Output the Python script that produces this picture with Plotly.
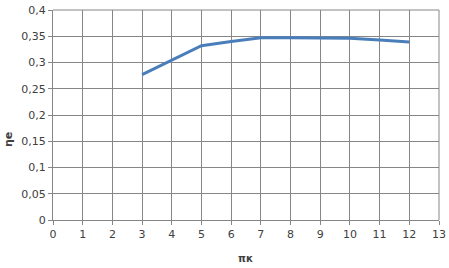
import plotly.graph_objects as go

pi_k = [3, 4, 5, 6, 7, 8, 9, 10, 11, 12]
eta_e = [0.277, 0.305, 0.332, 0.340, 0.347, 0.347, 0.346, 0.346, 0.343, 0.339]

x_ticks = list(range(0, 14))
y_ticks = [0, 0.05, 0.1, 0.15, 0.2, 0.25, 0.3, 0.35, 0.4]
y_labels = ["0", "0,05", "0,1", "0,15", "0,2", "0,25", "0,3", "0,35", "0,4"]

fig = go.Figure()
fig.add_trace(go.Scatter(x=pi_k, y=eta_e, mode="lines",
                         line=dict(color="#4A7EBB", width=3)))

grid = "#868686"
fig.update_layout(
    width=449, height=268,
    margin=dict(l=53, r=10, t=10, b=48, autoexpand=False),
    paper_bgcolor="white", plot_bgcolor="white",
    showlegend=False,
    font=dict(family="DejaVu Sans, Verdana, sans-serif", size=11, color="#404040"),
)
fig.update_xaxes(range=[0, 13], tickvals=x_ticks, ticktext=[str(v) for v in x_ticks],
                 showgrid=True, gridcolor=grid, gridwidth=1,
                 showline=True, linecolor=grid, linewidth=1,
                 ticks="outside", ticklen=4, tickcolor=grid,
                 zeroline=False, automargin=False)
fig.update_yaxes(range=[0, 0.4], tickvals=y_ticks, ticktext=y_labels,
                 showgrid=True, gridcolor=grid, gridwidth=1,
                 showline=True, linecolor=grid, linewidth=1,
                 ticks="outside", ticklen=4, tickcolor=grid,
                 zeroline=False, automargin=False)
fig.add_shape(type="line", xref="paper", yref="paper", x0=1, x1=1, y0=0, y1=1,
              line=dict(color=grid, width=1))
fig.add_shape(type="line", xref="paper", yref="paper", x0=0, x1=1, y0=1, y1=1,
              line=dict(color=grid, width=1))
fig.add_annotation(text="<b>πк</b>", xref="paper", yref="paper",
                   x=(245 - 53) / 386, y=-(258 - 220) / 210,
                   showarrow=False, font=dict(size=10, color="#404040"),
                   xanchor="center", yanchor="middle")
fig.add_annotation(text="<b>ηe</b>", xref="paper", yref="paper",
                   x=-(53 - 8) / 386, y=(220 - 140) / 210, textangle=-90,
                   showarrow=False, font=dict(size=11, color="#404040"),
                   xanchor="center", yanchor="middle")

fig.write_html("out.html")
